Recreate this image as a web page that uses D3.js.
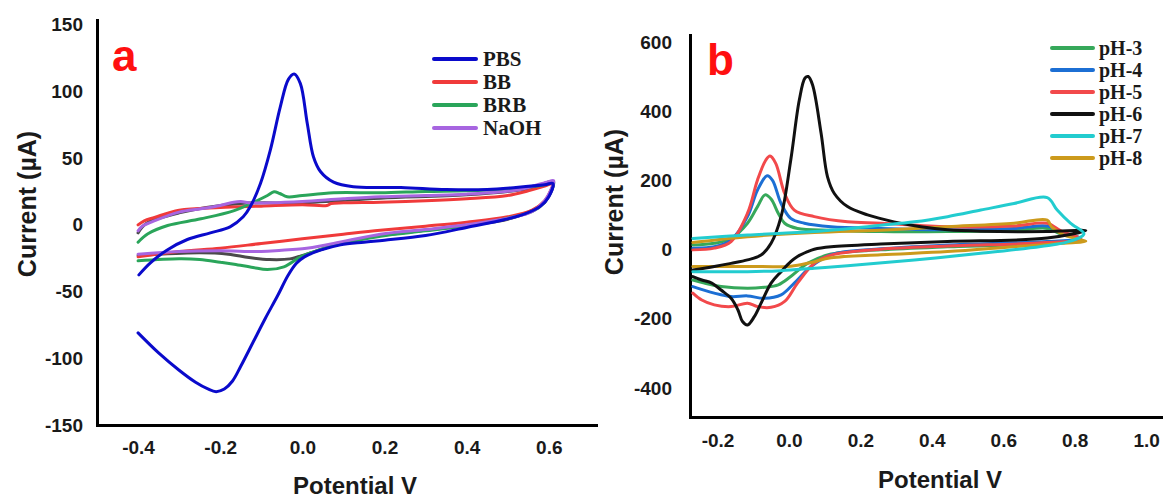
<!DOCTYPE html>
<html><head><meta charset="utf-8">
<script src="https://cdn.jsdelivr.net/npm/d3@7"></script>
<style>
html,body{margin:0;padding:0;background:#fff;overflow:hidden}
svg{display:block}
</style></head><body><svg id="c" width="1163" height="498"></svg>
<script>
// ---------- Panel a data (Potential V, Current µA) ----------
const xTicksA = [-0.4, -0.2, 0.0, 0.2, 0.4, 0.6];
const yTicksA = [-150, -100, -50, 0, 50, 100, 150];
const namesA = ["PBS", "BB", "BRB", "NaOH"];
const colorsA = ["#0a0acb", "#f03a3a", "#2aa55a", "#a765e0"];

const PBS = [[-0.400,-81],[-0.350,-96],[-0.300,-109],[-0.260,-118],[-0.230,-123],[-0.210,-125],[-0.190,-123],[-0.170,-117],[-0.150,-106],[-0.120,-88],[-0.090,-70],[-0.060,-53],[-0.035,-38],[-0.015,-29],[0.005,-24],[0.044,-19],[0.093,-15],[0.150,-13],[0.200,-11.5],[0.300,-8],[0.400,-2],[0.480,3],[0.540,8],[0.580,14],[0.600,21],[0.610,31],
  [0.590,30],[0.520,28],[0.450,26.5],[0.350,26.5],[0.240,28],[0.124,28.5],[0.076,32],[0.044,40],[0.027,51],[0.012,76],[-0.005,106],[-0.020,113],[-0.034,109],[-0.054,88],[-0.078,56],[-0.102,31],[-0.127,13.5],[-0.144,6],[-0.176,-1.5],[-0.224,-6],[-0.280,-11],[-0.330,-19],[-0.370,-28.5],[-0.398,-37.5]];
const BB = [[-0.400,-24],[-0.300,-20],[-0.200,-17.5],[-0.100,-14],[0.000,-10.5],[0.100,-7],[0.190,-4],[0.300,-1],[0.400,2],[0.500,6],[0.560,11],[0.590,18],[0.605,26],[0.610,31],
  [0.590,29],[0.550,25.5],[0.500,22],[0.400,19.5],[0.300,18],[0.190,17],[0.100,16.5],[0.070,16],[0.060,14.5],[0.000,15],[-0.100,14],[-0.200,13],[-0.300,11],[-0.360,5.5],[-0.385,3],[-0.400,0]];
const BRB = [[-0.400,-27],[-0.300,-25.5],[-0.250,-26],[-0.200,-28],[-0.166,-29.5],[-0.120,-32],[-0.085,-33.5],[-0.045,-31.5],[-0.004,-24],[0.040,-19],[0.076,-15.5],[0.190,-8.5],[0.300,-4.5],[0.400,-0.5],[0.500,5],[0.560,10],[0.590,17],[0.605,25],[0.612,32],
  [0.590,30],[0.510,27],[0.400,25.5],[0.300,25],[0.190,24],[0.076,24],[0.000,22],[-0.037,21],[-0.055,23.5],[-0.069,24.8],[-0.085,22],[-0.118,17],[-0.166,10.7],[-0.247,4.5],[-0.328,-0.5],[-0.376,-6.7],[-0.400,-13]];
const NaOH = [[-0.400,-22],[-0.300,-20],[-0.200,-19.5],[-0.100,-20],[-0.050,-19],[0.000,-18],[0.076,-14],[0.190,-7],[0.300,-3.5],[0.400,0],[0.510,5.5],[0.560,10],[0.590,18],[0.605,26],[0.612,33],
  [0.595,32],[0.550,28],[0.510,25.5],[0.400,23],[0.300,22],[0.190,21],[0.100,19.5],[0.000,17.5],[-0.080,16.5],[-0.126,16.4],[-0.150,17.5],[-0.167,17],[-0.200,14.5],[-0.247,12],[-0.300,9.5],[-0.368,2],[-0.390,-1],[-0.400,-4.5]];
const unlabeledA = [[-0.400,-23],[-0.250,-21],[-0.180,-22],[-0.130,-24.5],[-0.080,-26],[-0.030,-25.5],[0.010,-22],[0.060,-17],[0.120,-12],[0.190,-8],[0.300,-4],[0.400,-0.5],[0.510,5],[0.590,17],[0.610,32],
  [0.550,27],[0.400,22.5],[0.190,20],[0.000,16.5],[-0.150,16],[-0.300,9],[-0.380,1],[-0.400,-6]];

// ---------- Panel b data ----------
const xTicksB = [-0.2, 0.0, 0.2, 0.4, 0.6, 0.8, 1.0];
const yTicksB = [-400, -200, 0, 200, 400, 600];
const namesB = ["pH-3", "pH-4", "pH-5", "pH-6", "pH-7", "pH-8"];
const colorsB = ["#36a85a", "#1c6fd4", "#f2494b", "#111111", "#22cccf", "#cc9a1c"];

const pH3 = [[-0.269,13],[-0.209,18],[-0.162,32],[-0.116,76],[-0.088,124],[-0.067,158],[-0.050,146],[-0.030,105],[-0.012,76],[0.024,61],[0.118,56],[0.257,52],[0.444,52],[0.630,55],[0.723,61],[0.760,45],[0.817,30],
  [0.723,18],[0.444,8],[0.257,-1],[0.118,-13],[0.052,-40],[0.005,-78],[-0.030,-102],[-0.069,-109],[-0.116,-112],[-0.190,-107],[-0.237,-97],[-0.269,-88]];
const pH4 = [[-0.269,4],[-0.209,8],[-0.162,28],[-0.116,95],[-0.088,172],[-0.061,213],[-0.046,200],[-0.022,133],[0.005,90],[0.043,76],[0.118,66],[0.257,61],[0.444,57],[0.630,61],[0.723,68],[0.760,50],[0.817,32],
  [0.723,23],[0.444,13],[0.257,2],[0.118,-15],[0.062,-49],[0.015,-97],[-0.022,-131],[-0.069,-141],[-0.116,-134],[-0.162,-136],[-0.209,-126],[-0.269,-107]];
const pH5 = [[-0.269,-1],[-0.209,4],[-0.162,23],[-0.116,105],[-0.088,201],[-0.065,258],[-0.053,270],[-0.037,249],[-0.012,162],[0.015,114],[0.071,95],[0.164,80],[0.257,76],[0.444,66],[0.630,68],[0.723,76],[0.760,55],[0.817,30],
  [0.723,20],[0.444,10],[0.257,1],[0.118,-16],[0.071,-40],[0.024,-97],[-0.012,-150],[-0.050,-167],[-0.088,-165],[-0.116,-155],[-0.162,-165],[-0.209,-160],[-0.244,-146],[-0.269,-126]];
const pH6 = [[-0.269,-59],[-0.209,-49],[-0.162,-40],[-0.116,-30],[-0.078,-16],[-0.050,18],[-0.022,95],[0.005,258],[0.029,432],[0.045,496],[0.054,500],[0.066,476],[0.090,336],[0.108,210],[0.127,162],[0.164,124],[0.220,100],[0.294,80],[0.369,66],[0.444,57],[0.537,53],[0.723,52],[0.831,55],
  [0.723,33],[0.444,23],[0.257,16],[0.118,8],[0.071,1],[0.052,-6],[0.024,-20],[0.005,-35],[-0.022,-64],[-0.050,-97],[-0.078,-155],[-0.097,-194],[-0.116,-218],[-0.130,-208],[-0.143,-174],[-0.162,-141],[-0.190,-117],[-0.216,-97],[-0.244,-88],[-0.269,-78]];
const pH7 = [[-0.269,32],[-0.116,42],[0.071,52],[0.257,70],[0.351,80],[0.444,95],[0.537,114],[0.630,133],[0.723,150],[0.751,114],[0.788,76],[0.826,45],
  [0.780,22],[0.705,9],[0.537,-11],[0.351,-30],[0.164,-47],[0.071,-54],[-0.022,-61],[-0.116,-64],[-0.269,-64]];
const pH8 = [[-0.269,20],[-0.116,37],[0.071,49],[0.257,56],[0.444,66],[0.630,76],[0.723,85],[0.735,66],[0.770,42],[0.817,28],[0.831,24],
  [0.770,18],[0.630,8],[0.444,-6],[0.257,-15],[0.118,-24],[0.060,-38],[0.005,-48],[-0.116,-49],[-0.269,-49]];

const svg = d3.select("#c");
svg.append("rect").attr("width", 1163).attr("height", 498).attr("fill", "#fff");

const SANS = "'Liberation Sans', Arial, sans-serif";
const SERIF = "'Liberation Serif', 'Times New Roman', serif";

function panel(o) {
  const x = d3.scaleLinear().domain(o.xDomain).range(o.xRange);
  const y = d3.scaleLinear().domain(o.yDomain).range(o.yRange);
  const g = svg.append("g");

  const xa = g.append("g").attr("transform", `translate(0,${o.yRange[0]})`)
    .call(d3.axisBottom(x).tickValues(o.xTicks).tickSize(0).tickPadding(o.xPad).tickFormat(d => d.toFixed(1)));
  const ya = g.append("g").attr("transform", `translate(${o.xRange[0]},0)`)
    .call(d3.axisLeft(y).tickValues(o.yTicks).tickSize(0).tickPadding(o.yPad).tickFormat(d => String(d)));
  [xa, ya].forEach(a => {
    a.select(".domain").attr("stroke", "#000").attr("stroke-width", 3).attr("stroke-linecap", "square");
    a.selectAll(".tick text").attr("font-family", SANS).attr("font-weight", "bold")
      .attr("font-size", 19).attr("fill", "#1a1a1a");
  });

  const line = d3.line().x(d => x(d[0])).y(d => y(d[1])).curve(d3.curveCatmullRom.alpha(0.5));
  g.append("g").selectAll("path").data(o.series).join("path")
    .attr("d", d => line(d.pts)).attr("fill", "none").attr("stroke", d => d.color)
    .attr("stroke-width", 3).attr("stroke-linejoin", "round").attr("stroke-linecap", "round");

  // axis titles
  g.append("text").attr("x", o.xTitle[0]).attr("y", o.xTitle[1]).attr("text-anchor", "middle")
    .attr("font-family", SANS).attr("font-weight", "bold").attr("font-size", 24).attr("fill", "#1a1a1a")
    .text("Potential V");
  g.append("text").attr("transform", `translate(${o.yTitle[0]},${o.yTitle[1]}) rotate(-90)`)
    .attr("text-anchor", "middle").attr("dy", "0.35em")
    .attr("font-family", SANS).attr("font-weight", "bold").attr("font-size", 25).attr("fill", "#1a1a1a")
    .text("Current (µA)");
  // panel letter
  g.append("text").attr("x", o.letterPos[0]).attr("y", o.letterPos[1])
    .attr("font-family", SANS).attr("font-weight", "bold").attr("font-size", 44).attr("fill", "#ff1010")
    .text(o.letter);

  // legend
  const lg = g.append("g").selectAll("g").data(o.legend).join("g")
    .attr("transform", (d, i) => `translate(0,${o.legY[i]})`);
  lg.append("line").attr("x1", o.legX[0]).attr("x2", o.legX[1]).attr("stroke", d => d.color)
    .attr("stroke-width", 4).attr("stroke-linecap", "round");
  lg.append("text").attr("x", o.legX[2]).attr("dy", "0.33em")
    .attr("font-family", SERIF).attr("font-weight", "bold").attr("font-size", o.legFont).attr("fill", "#1a1a1a")
    .text(d => d.name);
}

const seriesA = [
  { pts: unlabeledA, color: "#4a4a4a" },
  { pts: BB, color: colorsA[1] },
  { pts: BRB, color: colorsA[2] },
  { pts: NaOH, color: colorsA[3] },
  { pts: PBS, color: colorsA[0] }
];
panel({
  xDomain: [-0.5, 0.715], xRange: [97, 596],
  yDomain: [-150, 153.5], yRange: [425, 20],
  xTicks: xTicksA, yTicks: yTicksA, xPad: 16, yPad: 14,
  series: seriesA,
  xTitle: [355, 494], yTitle: [27, 204],
  letter: "a", letterPos: [112, 71],
  legend: namesA.map((n, i) => ({ name: n, color: colorsA[i] })),
  legX: [434, 476, 483], legY: [59, 82, 105, 128], legFont: 21
});

const seriesB = [
  { pts: pH3, color: colorsB[0] },
  { pts: pH4, color: colorsB[1] },
  { pts: pH5, color: colorsB[2] },
  { pts: pH8, color: colorsB[5] },
  { pts: pH6, color: colorsB[3] },
  { pts: pH7, color: colorsB[4] }
];
panel({
  xDomain: [-0.277, 1.05], xRange: [690, 1164],
  yDomain: [-484, 620], yRange: [417, 35],
  xTicks: xTicksB, yTicks: yTicksB, xPad: 17, yPad: 18,
  series: seriesB,
  xTitle: [940, 488], yTitle: [614, 202],
  letter: "b", letterPos: [707, 75],
  legend: namesB.map((n, i) => ({ name: n, color: colorsB[i] })),
  legX: [1052, 1093, 1099], legY: [48, 70, 92, 114, 136, 158], legFont: 20
});
</script></body></html>
